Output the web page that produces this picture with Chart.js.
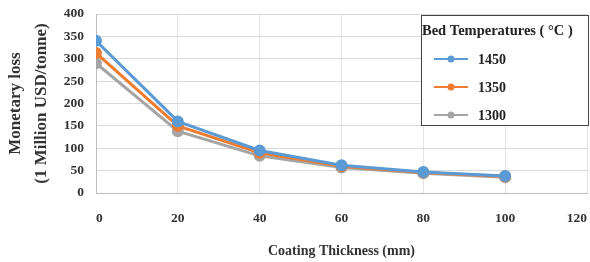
<!DOCTYPE html>
<html>
<head>
<meta charset="utf-8">
<script src="https://cdn.jsdelivr.net/npm/chart.js@4"></script>
<style>
  html, body { margin: 0; padding: 0; background: #fff; }
  #wrap { width: 590px; height: 262px; position: relative; }
</style>
</head>
<body>
<div id="wrap"><canvas id="lossChart" width="590" height="262"></canvas></div>
<script>
// Monetary loss vs coating thickness
const thickness = [0, 20, 40, 60, 80, 100];
const loss1450 = [340, 160, 95, 62, 47, 38];
const loss1350 = [313, 150, 90, 60, 46, 37];
const loss1300 = [290, 138, 83, 57, 44, 35];
const seriesLabels = ['1450', '1350', '1300'];
const seriesColors = ['#5B9BD5', '#ED7D31', '#A5A5A5'];
const legendTitle = 'Bed Temperatures ( °C )';

const serif = "'Liberation Serif', 'Times New Roman', serif";

function pts(vals) {
    return thickness.map((x, i) => ({ x: x, y: vals[i] }));
}

function makeSet(label, vals, color) {
    return {
        label: label,
        data: pts(vals),
        borderColor: color,
        backgroundColor: color,
        borderWidth: 3,
        pointRadius: 4.5,
        pointHoverRadius: 4.5,
        tension: 0
    };
}

// legend box drawn inside the plot, top right
const boxLegend = {
    id: 'boxLegend',
    afterDraw(chart) {
        const ctx = chart.ctx;
        const x0 = 421, y0 = 15, w = 167, h = 110;
        ctx.save();
        ctx.fillStyle = '#fff';
        ctx.fillRect(x0, y0, w, h);
        ctx.strokeStyle = '#444';
        ctx.lineWidth = 1;
        ctx.strokeRect(x0 + 0.5, y0 + 0.5, w, h);
        ctx.fillStyle = '#222';
        ctx.font = 'bold 14.5px ' + serif;
        ctx.textBaseline = 'middle';
        ctx.fillText(legendTitle, x0 + 1, y0 + 16);
        chart.data.datasets.forEach((ds, i) => {
            const yy = y0 + 44 + i * 28;
            ctx.strokeStyle = ds.borderColor;
            ctx.lineWidth = 2;
            ctx.beginPath();
            ctx.moveTo(x0 + 13, yy);
            ctx.lineTo(x0 + 47, yy);
            ctx.stroke();
            ctx.fillStyle = ds.borderColor;
            ctx.beginPath();
            ctx.arc(x0 + 30, yy, 3.5, 0, Math.PI * 2);
            ctx.fill();
            ctx.fillStyle = '#222';
            ctx.font = 'bold 14px ' + serif;
            ctx.fillText(ds.label, x0 + 57, yy + 1);
        });
        ctx.restore();
    }
};

const config = {
    type: 'line',
    data: {
        datasets: [
            makeSet(seriesLabels[0], loss1450, seriesColors[0]),
            makeSet(seriesLabels[1], loss1350, seriesColors[1]),
            makeSet(seriesLabels[2], loss1300, seriesColors[2])
        ]
    },
    options: {
        responsive: false,
        animation: false,
        layout: {
            autoPadding: false,
            padding: { top: 14, right: 0, bottom: 2, left: 0 }
        },
        plugins: {
            legend: { display: false },
            tooltip: { enabled: false }
        },
        scales: {
            x: {
                type: 'linear',
                min: 0,
                max: 120,
                ticks: {
                    stepSize: 20,
                    padding: 17,
                    align: 'inner',
                    color: '#333',
                    font: { size: 13.5, weight: 'bold', family: serif }
                },
                grid: { color: '#e4e4e4', drawTicks: false },
                border: { color: '#bdbdbd' },
                title: {
                    display: true,
                    text: 'Coating Thickness (mm)',
                    color: '#333',
                    padding: { top: 0, bottom: 0 },
                    font: { size: 14, weight: 'bold', family: serif }
                },
                afterFit(scale) {
                    scale.paddingLeft = 0;
                    scale.paddingRight = 3;
                }
            },
            y: {
                min: 0,
                max: 400,
                ticks: {
                    stepSize: 50,
                    padding: 12,
                    color: '#333',
                    font: { size: 13.5, weight: 'bold', family: serif }
                },
                grid: { color: '#d9d9d9', drawTicks: false },
                border: { color: '#bdbdbd' },
                title: {
                    display: true,
                    text: ['Monetary loss', '(1 Million USD/tonne)'],
                    color: '#333',
                    padding: { top: 3, bottom: 2 },
                    font: { size: 17, weight: 'bold', family: serif, lineHeight: 1.5 }
                },
                afterFit(scale) {
                    scale.width = 96;
                    scale.paddingTop = 0;
                    scale.paddingBottom = 0;
                }
            }
        }
    },
    plugins: [boxLegend]
};

const lossChart = new Chart(document.getElementById('lossChart'), config);
</script>
</body>
</html>
